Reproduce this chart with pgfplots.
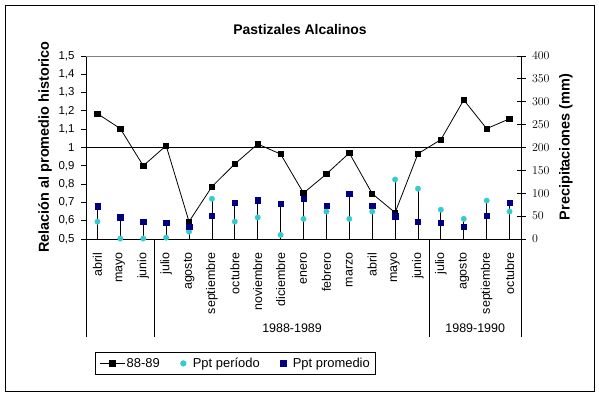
\documentclass[border=0pt]{standalone}
\usepackage{pgfplots}
\pgfplotsset{compat=1.18}
\usepackage{pgfplotstable}
\usepackage{fontspec}
\setmainfont{Liberation Sans}
\definecolor{navyb}{RGB}{0,0,128}
\definecolor{turq}{RGB}{51,204,204}

\pgfplotstableread{
x ratio prom per
0 1.185 72 38
1 1.103 48 1
2 0.900 38 1
3 1.010 36 3
4 0.595 27 16
5 0.786 51 88
6 0.910 79 38
7 1.019 85 47
8 0.964 77 9
9 0.751 88 44
10 0.855 73 60
11 0.970 99 44
12 0.748 73 60
13 0.644 50 130
14 0.966 38 110
15 1.043 36 64
16 1.260 27 44
17 1.103 51 84
18 1.157 79 60
}\data

\begin{document}
\begin{tikzpicture}[x=1bp,y=1bp]
\useasboundingbox (0,0) rectangle (599,396);
\draw[black, line width=0.9bp] (5,5) rectangle (594,391);
\node[font=\bfseries\fontsize{14}{16}\selectfont] at (300,366) {Pastizales Alcalinos};
\node[rotate=90, font=\bfseries\fontsize{14.5}{16}\selectfont] at (45,249) {Relación al promedio historico};
\node[rotate=90, font=\bfseries\fontsize{14.5}{16}\selectfont] at (566,249) {Precipitaciones (mm)};

\begin{axis}[
  at={(86bp,157bp)}, anchor=south west, scale only axis,
  width=435bp, height=183bp,
  xmin=-0.5, xmax=18.5, ymin=0.5, ymax=1.5,
  axis x line*=bottom, axis y line*=left, axis line style={-, line width=0.8bp},
  clip=false,
  tick align=outside, major tick length=5bp, minor tick length=73bp,
  tick style={black, line width=0.8bp},
  xtick={0,...,18}, xtick style={draw=none},
  minor xtick={-0.5,0.5,...,18.5},
  xticklabels={abril,mayo,junio,julio,agosto,septiembre,octubre,noviembre,diciembre,enero,febrero,marzo,abril,mayo,junio,julio,agosto,septiembre,octubre},
  xticklabel shift=5bp,
  xticklabel style={rotate=90, anchor=east, font=\fontsize{12.5}{15}\selectfont},
  ytick={0.5,0.6,0.7,0.8,0.9,1.0,1.1,1.2,1.3,1.4,1.5},
  yticklabel style={xshift=-3bp, font=\fontsize{11.5}{13}\selectfont},
  /pgf/number format/.cd, use comma, fixed, precision=1, assume math mode=true,
]
\draw[gray, line width=0.8bp] (axis cs:-0.5,1.5) -- (axis cs:18.5,1.5);
\addplot[black, line width=1bp, no marks] coordinates {(-0.5,1) (18.5,1)};
\addplot[black, line width=0.8bp, mark=square*, mark size=2.7bp, mark options={solid}] table[x=x, y=ratio] {\data};
\draw[black, line width=0.8bp] (axis cs:-0.5,0.5) -- ++(0bp,-98bp);
\draw[black, line width=0.8bp] (axis cs:2.5,0.5) -- ++(0bp,-98bp);
\draw[black, line width=0.8bp] (axis cs:14.5,0.5) -- ++(0bp,-98bp);
\draw[black, line width=0.8bp] (axis cs:18.5,0.5) -- ++(0bp,-98bp);
\node[font=\fontsize{12.5}{14}\selectfont] at ([yshift=-89bp]axis cs:8.5,0.5) {1988-1989};
\node[font=\fontsize{12.5}{14}\selectfont] at ([yshift=-89bp]axis cs:16.5,0.5) {1989-1990};
\end{axis}

\begin{axis}[
  at={(86bp,157bp)}, anchor=south west, scale only axis,
  width=435bp, height=183bp,
  xmin=-0.5, xmax=18.5, ymin=0, ymax=400,
  axis x line=none, axis y line*=right, axis line style={-, line width=0.8bp},
  clip=false,
  tick align=center, major tick length=9bp,
  tick style={black, line width=0.8bp},
  ytick={0,50,...,400},
  yticklabel style={xshift=3bp, font=\fontsize{11.5}{13}\selectfont},
  legend columns=3,
  legend style={at={(0.0207,-0.6175)}, anchor=north west, draw=black, line width=0.8bp,
    font=\fontsize{13}{15}\selectfont, inner sep=4bp,
    nodes={inner sep=1.5bp},
    /tikz/every even column/.append style={column sep=14bp}},
  legend cell align=left,
]
\addplot[ycomb, black, line width=0.8bp, no marks, forget plot] table[x=x, y=per] {\data};
\addplot[ycomb, black, line width=0.8bp, no marks, forget plot] table[x=x, y=prom] {\data};
\addlegendimage{black, line width=0.8bp,
  legend image code/.code={\draw[black, line width=0.8bp] (0bp,0bp) -- (25bp,0bp); \draw[black, mark=square*, mark size=2.7bp, mark repeat=2, mark phase=2] plot coordinates {(0bp,0bp) (12.5bp,0bp) (25bp,0bp)};}}
\addlegendentry{88-89}
\addplot[only marks, mark=*, mark size=2.7bp, color=turq,
  legend image code/.code={\path[draw=none] (0bp,0bp) -- (16bp,0bp); \path[draw=none, fill=turq, only marks, mark=*, mark size=2.7bp, mark options={draw=turq, fill=turq}] plot coordinates {(8bp,0bp)};}] table[x=x, y=per] {\data};
\addlegendentry{Ppt período}
\addplot[only marks, mark=square*, mark size=2.7bp, color=navyb,
  legend image code/.code={\path[draw=none] (0bp,0bp) -- (16bp,0bp); \path[draw=none, fill=navyb, only marks, mark=square*, mark size=2.7bp, mark options={draw=navyb, fill=navyb}] plot coordinates {(8bp,0bp)};}] table[x=x, y=prom] {\data};
\addlegendentry{Ppt promedio}
\end{axis}
\end{tikzpicture}
\end{document}
